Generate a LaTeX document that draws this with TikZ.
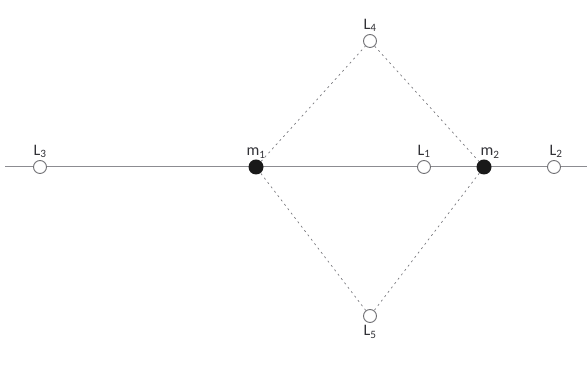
\documentclass[tikz,border=0pt]{standalone}
\usepackage{fontspec}
\setmainfont{Carlito}
\usepackage{tikz}
\usetikzlibrary{positioning}
\definecolor{lgline}{RGB}{140,140,145}
\definecolor{lgdash}{RGB}{120,120,125}
\definecolor{lgtext}{RGB}{50,50,55}

\begin{document}
\begin{tikzpicture}[x=1pt,y=1pt,font=\fontsize{16}{18}\selectfont,
    lpoint/.style={circle,draw=lgline!80!black,fill=white,line width=.9pt,minimum size=13pt,inner sep=0pt},
    mass/.style={circle,fill=black!90,minimum size=15pt,inner sep=0pt},
    lbl/.style={text=lgtext,inner sep=1pt}]
    \useasboundingbox (0,0) rectangle (587,374);
    \coordinate (west) at (5,207); \coordinate (east) at (587,207);
    \draw[lgline,line width=1pt] (west)--(east);
    \node[mass] (m1) at (256,207) {};
    \node[mass] (m2) at (484,207) {};
    \node[lpoint] (l4) at (370,333) {};
    \node[lpoint] (l5) at (370,58) {};
    \draw[lgdash,dash pattern=on 2pt off 3.5pt,line width=.7pt] (m1)--(l4)--(m2)--(l5)--(m1);
    \node[lpoint] (l3) at (40,207) {};
    \node[lpoint] (l1) at (424,207) {};
    \node[lpoint] (l2) at (554,207) {};
    \node[lbl,above=1pt of l3] {L\textsubscript{3}};
    \node[lbl,above=0pt of m1] {m\textsubscript{1}};
    \node[lbl,above=1pt of l1] {L\textsubscript{1}};
    \node[lbl,above=0pt of m2,xshift=6pt] {m\textsubscript{2}};
    \node[lbl,above=1pt of l2,xshift=2pt] {L\textsubscript{2}};
    \node[lbl,above=1pt of l4] {L\textsubscript{4}};
    \node[lbl,below=1pt of l5] {L\textsubscript{5}};
  \end{tikzpicture}
\end{document}
